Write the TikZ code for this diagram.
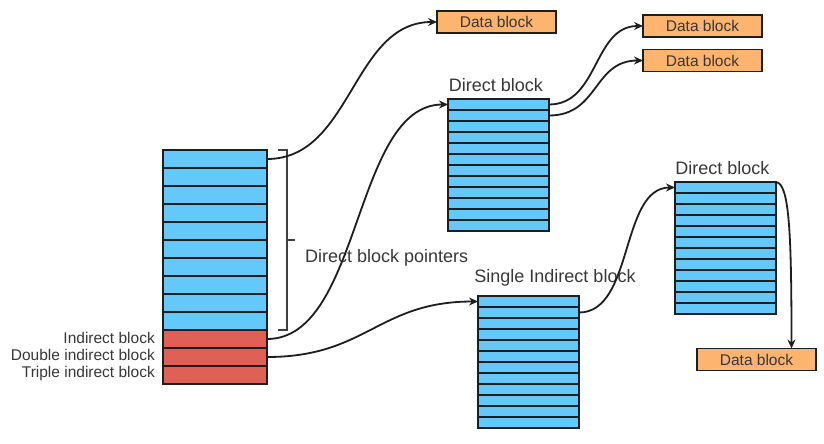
\documentclass[tikz,border=0pt]{standalone}
\usepackage{fontspec}
\setmainfont{Liberation Sans}
\usetikzlibrary{arrows.meta}
\definecolor{cellblue}{RGB}{100,200,250}
\definecolor{cellred}{RGB}{224,96,85}
\definecolor{dataorange}{RGB}{252,180,110}
\definecolor{txt}{RGB}{55,55,55}
\definecolor{edge}{RGB}{30,30,30}
\begin{document}
\begin{tikzpicture}[x=1pt,y=-1pt,
  mcell/.style={draw=edge, line width=2pt, minimum width=104pt, minimum height=18pt, inner sep=0pt, outer sep=0pt, anchor=north west},
  bcell/.style={draw=edge, line width=1.7pt, fill=cellblue, minimum width=101pt, minimum height=11pt, inner sep=0pt, outer sep=0pt, anchor=north west},
  datab/.style={draw=edge, line width=1.8pt, fill=dataorange, minimum width=119pt, minimum height=22pt, inner sep=0pt, outer sep=0pt, font=\fontsize{15.5}{17}\selectfont, text=txt},
  biglbl/.style={font=\fontsize{18}{21}\selectfont, text=txt, inner sep=0pt, anchor=base},
  smllbl/.style={font=\fontsize{15.5}{18}\selectfont, text=txt, inner sep=0pt, anchor=base east},
  conn/.style={line width=1.8pt, draw=edge, -{Stealth[length=9pt,width=8pt,inset=3pt]}},
  brk/.style={line width=1.8pt, draw=edge!85}
]
\useasboundingbox (0,0) rectangle (824,444);

% main inode table
\foreach \i in {1,...,10}
  \node[mcell, fill=cellblue] (m\i) at (163,{150+18*(\i-1)}) {};
\foreach \i in {11,12,13}
  \node[mcell, fill=cellred] (m\i) at (163,{150+18*(\i-1)}) {};

\node[smllbl] (lind) at (155,343) {Indirect block};
\node[smllbl] (ldbl) at (155,360) {Double indirect block};
\node[smllbl] (ltrp) at (155,377) {Triple indirect block};

% bracket
\draw[brk] (278,150) -- (287,150) -- (287,330) -- (278,330);
\draw[brk] (287,240) -- (295,240);
\node[biglbl, anchor=base west] (dbp) at (305,262) {Direct block pointers};

% upper direct block
\foreach \i in {1,...,12}
  \node[bcell] (u\i) at (448,{99+11*(\i-1)}) {};
\node[biglbl] (ulab) at (496,91) {Direct block};

% single indirect block
\foreach \i in {1,...,12}
  \node[bcell] (s\i) at (478,{296+11*(\i-1)}) {};
\node[biglbl] (slab) at (555,282) {Single Indirect block};

% right direct block
\foreach \i in {1,...,12}
  \node[bcell] (r\i) at (675,{182+11*(\i-1)}) {};
\node[biglbl] (rlab) at (722.5,174) {Direct block};

% data blocks
\node[datab] (d1) at (496.5,22) {Data block};
\node[datab] (d2) at (702.5,26) {Data block};
\node[datab] (d3) at (702.5,60.5) {Data block};
\node[datab] (d4) at (756.5,359.5) {Data block};

% connectors
\draw[conn] (m1.east) .. controls +(85,0) and +(-85,0) .. (d1.west);
\draw[conn] (m11.east) .. controls +(95,0) and +(-95,0) .. (u1.west);
\draw[conn] (m12.east) .. controls +(100,0) and +(-100,0) .. (s1.west);
\draw[conn] (u1.east) .. controls +(50,0) and +(-50,0) .. (d2.west);
\draw[conn] (u2.east) .. controls +(50,0) and +(-50,0) .. (d3.west);
\draw[conn] (s2.east) .. controls +(55,0) and +(-55,0) .. (r1.west);
\draw[conn] (r1.north east) .. controls +(13,2) and +(0,-120) .. ([xshift=35pt]d4.north);
\end{tikzpicture}
\end{document}
